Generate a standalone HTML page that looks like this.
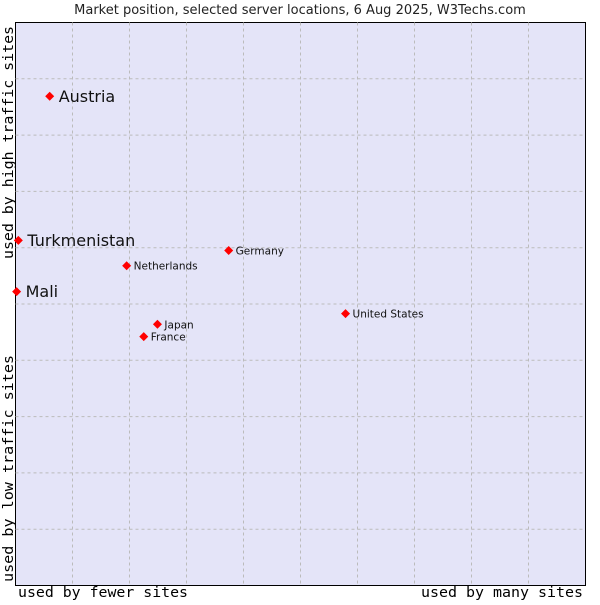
<!DOCTYPE html>
<html><head><meta charset="utf-8"><style>
body{margin:0;background:#fff;width:600px;height:600px;overflow:hidden}
svg text{font-family:"DejaVu Sans","Liberation Sans",sans-serif}
</style></head><body>
<svg id="chart" width="600" height="600">
<text x="300" y="14" text-anchor="middle" font-size="13" fill="#222">Market position, selected server locations, 6 Aug 2025, W3Techs.com</text>
<rect x="15.5" y="22.5" width="570" height="563" fill="#e4e4f8" stroke="#000"/>
<g id="grid"></g>
<g id="points"></g>
<text x="18" y="597" font-size="14" textLength="170" lengthAdjust="spacingAndGlyphs" fill="#000" style="font-family:'DejaVu Sans Mono',monospace">used by fewer sites</text>
<text x="421" y="597" font-size="14" textLength="162" lengthAdjust="spacingAndGlyphs" fill="#000" style="font-family:'DejaVu Sans Mono',monospace">used by many sites</text>
<text transform="translate(13,582) rotate(-90)" font-size="14" textLength="227" lengthAdjust="spacingAndGlyphs" fill="#000" style="font-family:'DejaVu Sans Mono',monospace">used by low traffic sites</text>
<text transform="translate(13,259) rotate(-90)" font-size="14" textLength="233" lengthAdjust="spacingAndGlyphs" fill="#000" style="font-family:'DejaVu Sans Mono',monospace">used by high traffic sites</text>
</svg>
<script>
const countries=["Austria","Turkmenistan","Mali","Netherlands","Germany","United States","Japan","France"];
const xValues=[6.0,0.5,0.2,19.5,37.4,57.9,24.9,22.5];
const yValues=[86.9,61.3,52.2,56.8,59.5,48.3,46.4,44.2];
const bigLabel=[true,true,true,false,false,false,false,false];
const L=15.5,T=22.5,W=570,H=563;
const sx=v=>L+v/100*W, sy=v=>T+H-v/100*H;
const ns="http://www.w3.org/2000/svg";
const grid=document.getElementById('grid');
for(let i=1;i<10;i++){
 const a=document.createElementNS(ns,'line');
 a.setAttribute('x1',sx(i*10));a.setAttribute('x2',sx(i*10));a.setAttribute('y1',T);a.setAttribute('y2',T+H);
 a.setAttribute('stroke','#bbb');a.setAttribute('stroke-dasharray','3,3');
 
 
 grid.appendChild(a);
 const b=document.createElementNS(ns,'line');
 b.setAttribute('y1',sy(i*10));b.setAttribute('y2',sy(i*10));b.setAttribute('x1',L);b.setAttribute('x2',L+W);
 b.setAttribute('stroke','#bbb');b.setAttribute('stroke-dasharray','3,3');
 
 
 grid.appendChild(b);
}
const pts=document.getElementById('points');
countries.forEach((c,i)=>{
 const x=sx(xValues[i]),y=sy(yValues[i]);
 const p=document.createElementNS(ns,'polygon');
 p.setAttribute('points',`${x},${y-4.5} ${x+4.5},${y} ${x},${y+4.5} ${x-4.5},${y}`);
 p.setAttribute('fill','#f00');
 
 
 pts.appendChild(p);
 const t=document.createElementNS(ns,'text');
 t.setAttribute('x',x+(bigLabel[i]?9:7));
 t.setAttribute('y',y+(bigLabel[i]?5.5:4));
 t.setAttribute('font-size',bigLabel[i]?16:10.5);
 t.setAttribute('fill','#111');
 t.textContent=c;
 
 
 pts.appendChild(t);
});
</script>
</body></html>
